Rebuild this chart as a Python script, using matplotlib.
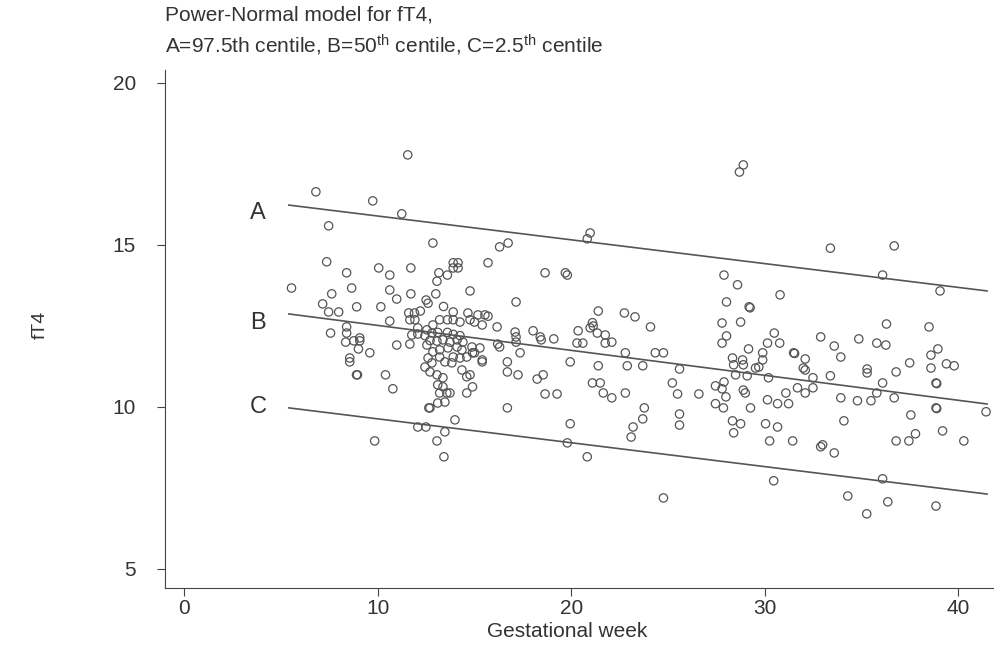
import numpy as np
import matplotlib
matplotlib.use("Agg")
import matplotlib.pyplot as plt

plt.rcParams['font.family'] = ['Liberation Sans', 'DejaVu Sans']
plt.rcParams['mathtext.fontset'] = 'custom'
plt.rcParams['mathtext.rm'] = 'Liberation Sans'
plt.rcParams['mathtext.it'] = 'Liberation Sans'

week = [11.55, 6.8, 9.74, 11.24, 7.46, 12.85, 7.36, 8.39, 10.05, 10.62,
        11.71, 13.9, 14.15, 13.9, 14.15, 13.16, 13.6, 13.06, 5.54, 8.65,
        7.62, 10.62, 10.98, 11.71, 12.5, 12.6, 13.0, 7.15, 7.46, 7.98,
        8.91, 10.16, 11.6, 11.9, 12.2, 13.4, 13.9, 10.62, 7.56, 8.39,
        8.39, 8.34, 8.76, 9.07, 9.0, 9.59, 10.98, 11.66, 8.55, 8.55,
        8.9, 8.95, 10.4, 10.78, 9.84, 12.07, 12.49, 12.64, 13.06, 13.42,
        13.47, 13.99, 15.7, 14.77, 11.66, 11.92, 14.66, 15.18, 15.54, 15.7,
        13.2, 13.6, 13.9, 14.25, 14.77, 15.0, 15.4, 16.17, 12.07, 12.54,
        12.85, 11.76, 12.07, 12.44, 12.8, 13.1, 13.6, 13.9, 14.25, 12.7,
        13.06, 13.37, 13.73, 14.1, 14.4, 9.07, 12.54, 12.85, 13.2, 13.63,
        14.1, 14.35, 14.87, 15.28, 16.3, 13.9, 14.25, 14.6, 15.0, 15.4,
        12.6, 12.8, 13.2, 13.47, 13.83, 12.44, 12.7, 13.06, 13.37, 14.35,
        14.77, 16.7, 16.7, 13.1, 13.37, 13.57, 13.2, 13.73, 13.47, 14.6,
        14.9, 14.6, 13.1, 12.7, 16.7, 20.98, 20.83, 16.3, 16.74, 18.65,
        19.7, 19.8, 17.15, 21.4, 22.75, 23.3, 17.1, 17.15, 17.15, 18.03,
        18.4, 18.45, 19.1, 20.36, 21.1, 21.14, 20.98, 21.35, 21.76, 22.1,
        21.76, 20.3, 20.6, 22.8, 16.2, 17.36, 14.9, 15.4, 17.25, 18.24,
        18.55, 18.65, 19.27, 19.95, 21.4, 21.1, 21.5, 21.66, 22.1, 22.9,
        22.8, 19.95, 19.8, 20.83, 23.2, 23.1, 28.9, 28.7, 27.9, 28.6,
        30.8, 28.03, 29.2, 29.25, 27.8, 28.76, 24.1, 28.03, 27.8, 30.5,
        30.15, 30.78, 29.17, 29.9, 24.35, 24.77, 31.5, 31.55, 32.9, 33.6,
        33.94, 34.87, 28.34, 28.86, 28.9, 28.4, 29.9, 29.7, 29.53, 32.1,
        32.0, 32.1, 28.5, 29.1, 30.2, 32.5, 33.4, 27.46, 27.9, 27.8,
        28.9, 29.0, 28.0, 26.6, 31.1, 31.7, 32.1, 32.5, 30.15, 30.67,
        31.24, 27.46, 27.87, 29.27, 33.94, 34.8, 28.34, 28.76, 28.4, 30.05,
        30.67, 34.1, 30.26, 31.45, 33.0, 23.7, 25.6, 25.23, 25.5, 23.78,
        23.7, 25.6, 25.6, 24.77, 30.47, 32.9, 33.4, 36.7, 36.1, 39.07,
        36.3, 38.5, 35.8, 36.27, 38.96, 38.6, 35.3, 35.3, 36.8, 37.5,
        38.6, 39.4, 39.8, 38.86, 38.9, 36.1, 35.8, 35.5, 36.7, 38.86,
        38.9, 41.45, 37.56, 39.2, 37.8, 37.46, 36.8, 40.3, 33.6, 36.1,
        34.3, 36.37, 38.86, 35.28]
ft4 = [17.78, 16.64, 16.36, 15.96, 15.59, 15.06, 14.48, 14.14, 14.29, 14.07,
       14.29, 14.45, 14.45, 14.29, 14.29, 14.14, 14.07, 13.88, 13.67, 13.67,
       13.49, 13.61, 13.33, 13.49, 13.3, 13.2, 13.49, 13.18, 12.93, 12.93,
       13.09, 13.09, 12.9, 12.9, 12.96, 13.1, 12.93, 12.65, 12.28, 12.47,
       12.28, 12.0, 12.04, 12.04, 11.79, 11.67, 11.91, 11.94, 11.51, 11.39,
       10.99, 10.99, 10.99, 10.56, 8.95, 9.38, 9.38, 9.97, 8.95, 8.46,
       9.23, 9.6, 14.45, 13.58, 12.69, 12.69, 12.9, 12.84, 12.84, 12.8,
       12.69, 12.69, 12.69, 12.62, 12.69, 12.62, 12.53, 12.47, 12.44, 12.38,
       12.53, 12.22, 12.25, 12.2, 12.28, 12.3, 12.3, 12.24, 12.2, 12.05,
       12.03, 12.07, 12.0, 12.07, 12.0, 12.13, 11.91, 11.7, 11.76, 11.82,
       11.85, 11.76, 11.85, 11.82, 11.85, 11.54, 11.51, 11.54, 11.67, 11.45,
       11.51, 11.36, 11.54, 11.39, 11.36, 11.23, 11.08, 10.99, 10.9, 11.14,
       10.99, 11.39, 11.08, 10.68, 10.62, 10.43, 10.43, 10.43, 10.15, 10.93,
       10.62, 10.43, 10.12, 9.97, 9.97, 15.37, 15.19, 14.94, 15.06, 14.14,
       14.14, 14.07, 13.24, 12.96, 12.9, 12.78, 12.31, 12.16, 12.0, 12.35,
       12.16, 12.07, 12.1, 12.35, 12.6, 12.5, 12.44, 12.28, 12.22, 12.0,
       11.97, 11.97, 11.97, 11.67, 11.94, 11.67, 11.67, 11.39, 10.99, 10.86,
       10.99, 10.4, 10.4, 11.39, 11.27, 10.74, 10.74, 10.43, 10.28, 11.27,
       10.43, 9.48, 8.89, 8.46, 9.38, 9.07, 17.47, 17.25, 14.07, 13.77,
       13.46, 13.24, 13.09, 13.06, 12.59, 12.62, 12.47, 12.19, 11.97, 12.28,
       11.97, 11.97, 11.79, 11.67, 11.67, 11.67, 11.67, 11.65, 12.16, 11.88,
       11.54, 12.1, 11.51, 11.45, 11.3, 11.3, 11.45, 11.23, 11.2, 11.48,
       11.2, 11.14, 10.99, 10.96, 10.9, 10.9, 10.96, 10.65, 10.77, 10.56,
       10.52, 10.43, 10.31, 10.4, 10.43, 10.59, 10.43, 10.59, 10.22, 10.1,
       10.1, 10.1, 9.97, 9.97, 10.28, 10.19, 9.57, 9.48, 9.2, 9.48,
       9.38, 9.57, 8.95, 8.95, 8.83, 11.27, 11.17, 10.74, 10.4, 9.97,
       9.63, 9.78, 9.44, 7.19, 7.72, 8.77, 14.9, 14.97, 14.07, 13.58,
       12.56, 12.47, 11.97, 11.91, 11.79, 11.6, 11.17, 11.05, 11.08, 11.36,
       11.2, 11.33, 11.27, 10.74, 10.72, 10.74, 10.43, 10.19, 10.28, 9.97,
       9.95, 9.85, 9.75, 9.26, 9.17, 8.95, 8.95, 8.95, 8.58, 7.78,
       7.25, 7.07, 6.94, 6.7]

# fitted centiles (end points of the curves)
centile_weeks = [5.4, 41.5]
centile_A = [16.23, 13.58]   # 97.5th
centile_B = [12.87, 10.09]   # 50th
centile_C = [9.97, 7.31]     # 2.5th

line_labels = ['A', 'B', 'C']
label_week = 3.8
label_vals = [15.99, 12.6, 10.0]

fig = plt.figure(figsize=(9.94, 6.47), dpi=100)
ax = fig.add_axes([0.166, 0.0912, 0.834, 0.8006])

grey = '#555555'
ax.scatter(week, ft4, s=36, facecolors='none', edgecolors=grey, linewidths=0.9)
for vals in (centile_A, centile_B, centile_C):
    ax.plot(centile_weeks, vals, color=grey, lw=1.2)

for lab, v in zip(line_labels, label_vals):
    ax.text(label_week, v, lab, fontsize=17, color='#333333', ha='center', va='center')

ax.set_xlim(-1.0, 41.86)
ax.set_ylim(4.41, 20.4)
ax.set_xticks([0, 10, 20, 30, 40])
ax.set_yticks([5, 10, 15, 20])
ax.spines['top'].set_visible(False)
ax.spines['right'].set_visible(False)
for s in ('left', 'bottom'):
    ax.spines[s].set_color('#444444')
ax.tick_params(axis='both', colors='#444444', labelcolor='#333333', labelsize=15, length=6)
ax.tick_params(axis='y', pad=15)
ax.tick_params(axis='x', pad=2)

ax.set_xlabel('Gestational week', fontsize=15, color='#333333')
ax.xaxis.set_label_coords(0.485, -0.066)
fig.text(40 / 994, 1 - 325 / 647, 'fT4', rotation=90, fontsize=14, color='#333333',
         ha='center', va='center')

fig.text(165 / 994, 1 - 15 / 647, 'Power-Normal model for fT4,', fontsize=15,
         color='#333333', ha='left', va='center')
fig.text(165 / 994, 1 - 45 / 647,
         r'A=97.5th centile, B=50$^{\mathrm{th}}$ centile, C=2.5$^{\mathrm{th}}$ centile',
         fontsize=15, color='#333333', ha='left', va='center')

fig.savefig('out.png', dpi=100)
